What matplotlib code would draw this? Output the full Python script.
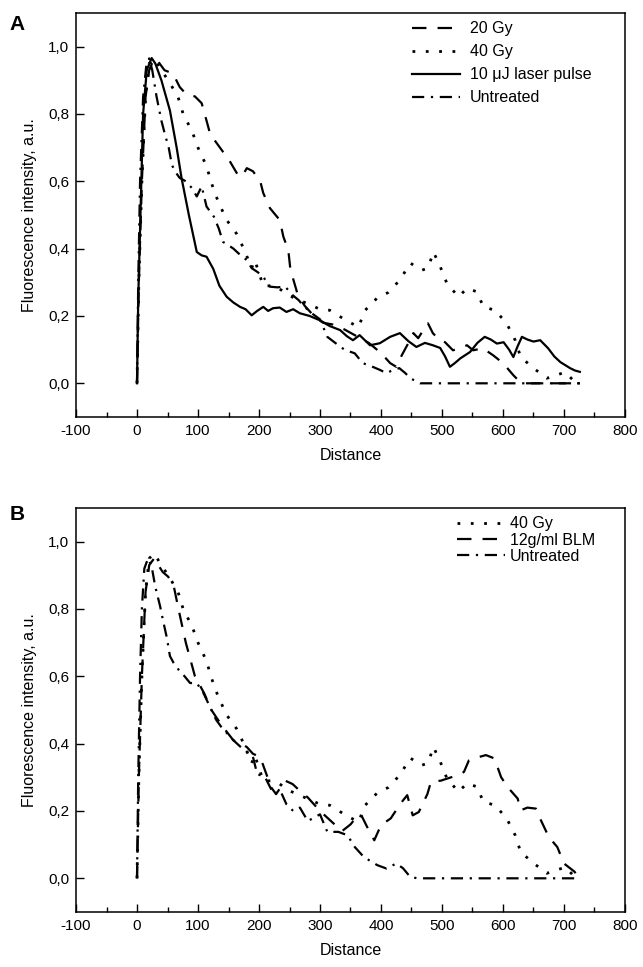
import matplotlib
matplotlib.use("Agg")
import matplotlib.pyplot as plt
from matplotlib.ticker import MultipleLocator, FuncFormatter

plt.rcParams["font.family"] = ["Liberation Sans", "DejaVu Sans"]
plt.rcParams["axes.unicode_minus"] = False

# Panel A data
laser_x = [0, 2, 5, 10, 16, 24, 30, 40, 54, 65, 73, 85, 98, 106, 114, 125, 135, 147, 158, 169, 178, 188,
           197, 207, 215, 223, 234, 245, 256, 267, 283, 300, 316, 333, 344, 354, 365, 382, 398, 415, 431,
           445, 458, 472, 485, 497, 505, 513, 521, 530, 546, 558, 570, 580, 590, 601, 610, 617, 624, 631,
           640, 650, 661, 674, 684, 694, 710, 718, 726]
laser_y = [0, 0.25, 0.455, 0.80, 0.93, 0.966, 0.95, 0.9, 0.81, 0.7, 0.61, 0.5, 0.39, 0.38, 0.376, 0.34,
           0.29, 0.257, 0.24, 0.227, 0.22, 0.202, 0.215, 0.227, 0.215, 0.223, 0.225, 0.212, 0.22, 0.208,
           0.2, 0.187, 0.17, 0.158, 0.14, 0.128, 0.143, 0.113, 0.119, 0.138, 0.149, 0.125, 0.108, 0.12,
           0.113, 0.105, 0.08, 0.049, 0.06, 0.074, 0.093, 0.12, 0.138, 0.13, 0.118, 0.122, 0.1, 0.078,
           0.11, 0.138, 0.13, 0.124, 0.128, 0.104, 0.08, 0.063, 0.045, 0.038, 0.034]

gy20_x = [0, 3, 8, 14, 20, 28, 35, 45, 59, 70, 80, 95, 106, 114, 120, 136, 152, 165, 172, 180, 190, 202,
          207, 218, 234, 240, 248, 251, 256, 264, 275, 290, 305, 320, 340, 360, 380, 400, 415, 425, 434,
          445, 453, 461, 470, 477, 485, 495, 505, 518, 530, 541, 551, 567, 584, 600, 617, 630, 726]
gy20_y = [0, 0.3, 0.6, 0.85, 0.93, 0.965, 0.955, 0.93, 0.92, 0.88, 0.86, 0.852, 0.832, 0.78, 0.74, 0.70,
          0.66, 0.62, 0.614, 0.639, 0.63, 0.60, 0.565, 0.52, 0.485, 0.435, 0.396, 0.346, 0.31, 0.26, 0.23,
          0.2, 0.18, 0.175, 0.16, 0.14, 0.12, 0.09, 0.06, 0.049, 0.083, 0.12, 0.149, 0.134, 0.16, 0.178,
          0.149, 0.13, 0.122, 0.098, 0.105, 0.113, 0.098, 0.104, 0.083, 0.06, 0.024, 0.0, 0.0]

gy40_x = [0, 3, 8, 14, 20, 28, 40, 51, 67, 76, 90, 100, 114, 122, 133, 147, 163, 175, 188, 193, 207, 226,
          250, 275, 300, 316, 340, 363, 374, 393, 412, 431, 448, 467, 477, 486, 497, 508, 527, 541, 557,
          568, 587, 606, 620, 629, 650, 672, 702, 720, 726]
gy40_y = [0, 0.3, 0.6, 0.85, 0.95, 0.965, 0.93, 0.90, 0.852, 0.798, 0.75, 0.70, 0.645, 0.595, 0.54,
          0.485, 0.445, 0.40, 0.342, 0.366, 0.289, 0.29, 0.26, 0.24, 0.22, 0.217, 0.19, 0.167, 0.217,
          0.252, 0.27, 0.307, 0.357, 0.336, 0.342, 0.39, 0.347, 0.297, 0.257, 0.282, 0.272, 0.227, 0.217,
          0.178, 0.128, 0.078, 0.045, 0.015, 0.033, 0.0, 0.0]

untr_a_x = [0, 2, 5, 10, 15, 20, 25, 32, 40, 46, 52, 57, 62, 70, 80, 90, 98, 106, 114, 120, 126, 134,
            141, 150, 158, 170, 180, 188, 198, 207, 218, 230, 243, 255, 265, 272, 285, 300, 312, 325, 340,
            357, 370, 385, 398, 409, 420, 430, 440, 448, 464, 726]
untr_a_y = [0, 0.3, 0.6, 0.85, 0.94, 0.965, 0.93, 0.852, 0.78, 0.738, 0.70, 0.65, 0.63, 0.61, 0.6, 0.58,
            0.555, 0.585, 0.525, 0.51, 0.495, 0.46, 0.42, 0.41, 0.40, 0.38, 0.366, 0.342, 0.33, 0.316,
            0.287, 0.285, 0.287, 0.262, 0.247, 0.232, 0.21, 0.19, 0.138, 0.12, 0.1, 0.089, 0.06, 0.05,
            0.04, 0.03, 0.04, 0.045, 0.03, 0.015, 0.0, 0.0]

# Panel B data
blm_x = [0, 3, 8, 14, 20, 28, 35, 42, 51, 60, 68, 80, 95, 110, 122, 133, 145, 158, 170, 180, 190, 202,
         212, 220, 228, 243, 255, 267, 280, 300, 318, 336, 350, 359, 367, 378, 389, 400, 416, 432, 443,
         452, 462, 476, 482, 498, 515, 530, 536, 544, 560, 572, 586, 597, 608, 624, 629, 640, 654, 662,
         675, 689, 700, 717, 726]
blm_y = [0, 0.3, 0.6, 0.85, 0.93, 0.95, 0.93, 0.91, 0.896, 0.87, 0.80, 0.70, 0.60, 0.55, 0.5, 0.47,
         0.44, 0.41, 0.40, 0.39, 0.37, 0.36, 0.31, 0.27, 0.25, 0.29, 0.28, 0.26, 0.24, 0.2, 0.17, 0.14,
         0.16, 0.18, 0.19, 0.15, 0.113, 0.158, 0.178, 0.222, 0.247, 0.187, 0.197, 0.25, 0.287, 0.29, 0.30,
         0.31, 0.316, 0.35, 0.36, 0.366, 0.356, 0.30, 0.27, 0.237, 0.202, 0.21, 0.207, 0.173, 0.123,
         0.093, 0.044, 0.02, 0.0]

untr_b_x = [0, 2, 5, 8, 12, 18, 24, 30, 38, 43, 49, 54, 60, 68, 78, 87, 98, 109, 122, 130, 138, 148,
            158, 170, 180, 190, 197, 210, 224, 235, 245, 256, 267, 280, 290, 300, 312, 330, 345, 357, 372,
            394, 409, 425, 436, 448, 460, 726]
untr_b_y = [0, 0.3, 0.6, 0.8, 0.92, 0.95, 0.926, 0.866, 0.807, 0.763, 0.714, 0.66, 0.64, 0.62, 0.60,
            0.58, 0.58, 0.55, 0.5, 0.47, 0.45, 0.43, 0.41, 0.39, 0.376, 0.361, 0.31, 0.3, 0.25, 0.26,
            0.22, 0.2, 0.21, 0.17, 0.18, 0.19, 0.138, 0.138, 0.128, 0.093, 0.063, 0.039, 0.029, 0.044,
            0.03, 0.004, 0.0, 0.0]

DASH = (0, (6.5, 5))
DOT = (0, (1.0, 3.8))
DASHDOT = (0, (5.5, 3, 1, 3))
LW = 1.6


def style_axes(ax):
    ax.set_xlim(-100, 800)
    ax.set_ylim(-0.1, 1.1)
    ax.xaxis.set_major_locator(MultipleLocator(100))
    ax.xaxis.set_minor_locator(MultipleLocator(50))
    ax.yaxis.set_major_locator(MultipleLocator(0.2))
    ax.yaxis.set_major_formatter(FuncFormatter(lambda v, p: ("%.1f" % v).replace(".", ",")))
    ax.tick_params(which="both", direction="in", top=False, right=False, labelsize=11)
    ax.tick_params(which="major", length=6, width=1, pad=5)
    ax.tick_params(which="minor", length=3.5, width=1)
    for s in ax.spines.values():
        s.set_linewidth(1.1)
    ax.set_xlabel("Distance", fontsize=11.5, labelpad=7)
    ax.set_ylabel("Fluorescence intensity, a.u.", fontsize=11.5, labelpad=8)


fig = plt.figure(figsize=(6.43, 9.67), dpi=100)
ax1 = fig.add_axes([0.1182, 0.5688, 0.8538, 0.4178])
ax2 = fig.add_axes([0.1182, 0.0569, 0.8538, 0.4178])

ax1.plot(gy20_x, gy20_y, color="k", lw=LW, linestyle=DASH, label="20 Gy")
ax1.plot(gy40_x, gy40_y, color="k", lw=LW + 0.4, linestyle=DOT, label="40 Gy")
ax1.plot(laser_x, laser_y, color="k", lw=LW, linestyle="-", label="10 μJ laser pulse")
ax1.plot(untr_a_x, untr_a_y, color="k", lw=LW, linestyle=DASHDOT, label="Untreated")
style_axes(ax1)
ax1.legend(loc="upper left", bbox_to_anchor=(0.641, 0.978), bbox_transform=fig.transFigure,
           frameon=False, fontsize=11.5, handlelength=3.0, handletextpad=0.6, labelspacing=0.5,
           borderpad=0, borderaxespad=0)

ax2.plot(gy40_x, gy40_y, color="k", lw=LW + 0.4, linestyle=DOT, label="40 Gy")
ax2.plot(blm_x, blm_y, color="k", lw=LW, linestyle=DASH, label="12g/ml BLM")
ax2.plot(untr_b_x, untr_b_y, color="k", lw=LW, linestyle=DASHDOT, label="Untreated")
style_axes(ax2)
ax2.legend(loc="upper left", bbox_to_anchor=(0.711, 0.466), bbox_transform=fig.transFigure,
           frameon=False, fontsize=11.5, handlelength=3.0, handletextpad=0.3, labelspacing=0.08,
           borderpad=0, borderaxespad=0)

fig.text(0.015, 0.985, "A", fontsize=15, fontweight="bold", va="top")
fig.text(0.015, 0.478, "B", fontsize=15, fontweight="bold", va="top")

fig.savefig("out.png", dpi=100)
